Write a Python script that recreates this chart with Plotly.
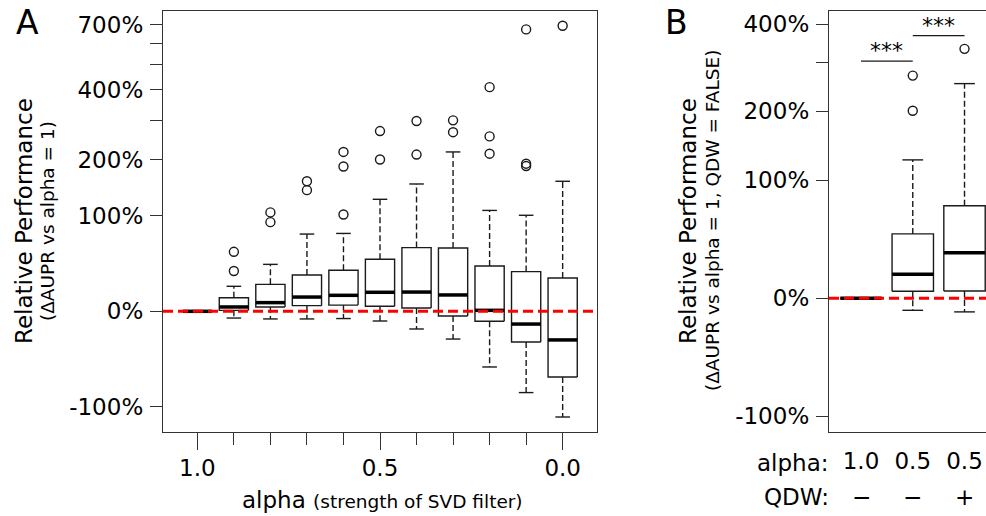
import numpy as np
import plotly.graph_objects as go

# ---------------- data (relative performance in %) ----------------
# Panel A: alpha (strength of SVD filter)
alpha_a = [1.0, 0.9, 0.8, 0.7, 0.6, 0.5, 0.4, 0.3, 0.2, 0.1, 0.0]
alpha_tick_labels = ["1.0", "0.5", "0.0"]
alpha_major = [1.0, 0.5, 0.0]
alpha_minor = [0.9, 0.8, 0.7, 0.6, 0.4, 0.3, 0.2, 0.1]
lo_a = [0, -5.0, -5.7, -5.7, -5.4, -7.3, -13.7, -22.3, -49.8, -80.4, -115.4]
q1_a = [0, 0.7, 3.2, 4.2, 4.6, 3.7, 2.4, -3.5, -7.5, -24.9, -61.1]
med_a = [0, 3.2, 6.5, 10.9, 12.3, 14.8, 15.0, 12.6, 0.7, -9.7, -23.1]
q3_a = [0, 10.4, 21.6, 30.2, 34.7, 45.9, 58.8, 58.3, 38.9, 33.4, 27.4]
hi_a = [0, 19.9, 40.6, 75.2, 76.0, 125.5, 152, 218, 108, 100.8, 157]
out_a = [[], [34, 54], [91, 105], [141, 157], [102, 186, 218], [201, 270],
         [212, 298], [267, 300], [214, 256, 409], [187, 192, 674], [695]]

# Panel B: alpha / QDW combinations
pos_b = [1, 2, 3]
alpha_b = ["1.0", "0.5", "0.5"]
qdw_b = ["\u2212", "\u2212", "+"]
lo_b = [0, -7.3, -8.3]
q1_b = [0, 4.2, 4.4]
med_b = [0, 15.1, 30.7]
q3_b = [0, 46.0, 72.3]
hi_b = [0, 125.5, 253]
out_b = [[], [201, 270], [333]]
sig_pairs = [(1, 2), (2, 3)]
sig_labels = ["***", "***"]
sig_heights = [303, 368]

yt_a = [-100, 0, 100, 200, 300, 400, 500, 600, 700]
yl_a = ["-100%", "0%", "100%", "200%", "", "400%", "", "", "700%"]
yt_b = [-100, 0, 100, 200, 300, 400]
yl_b = ["-100%", "0%", "100%", "200%", "", "400%"]


def T(p):
    p = np.asarray(p, dtype=float)
    return np.sign(p) * np.log2(1 + np.abs(p) / 100.0)


FONT = "DejaVu Sans"
LC = "#1a1a1a"


def boxes(xs, lo, q1, med, q3, hi, outl, hw, xa, ya):
    bx, by, mx, my, wx, wy, sx, sy, ox, oy = ([] for _ in range(10))
    for x, a, b, m, c, d, o in zip(xs, lo, q1, med, q3, hi, outl):
        a, b, m, c, d = T([a, b, m, c, d])
        bx += [x - hw, x + hw, x + hw, x - hw, x - hw, None]
        by += [b, b, c, c, b, None]
        mx += [x - hw, x + hw, None]
        my += [m, m, None]
        wx += [x, x, None, x, x, None]
        wy += [c, d, None, b, a, None]
        sx += [x - hw / 2, x + hw / 2, None, x - hw / 2, x + hw / 2, None]
        sy += [d, d, None, a, a, None]
        ox += [x] * len(o)
        oy += list(T(o)) if len(o) else []
    common = dict(xaxis=xa, yaxis=ya, showlegend=False, hoverinfo="skip")
    return [
        go.Scatter(x=wx, y=wy, mode="lines", line=dict(color=LC, width=1.4, dash="6px,3px"), **common),
        go.Scatter(x=sx, y=sy, mode="lines", line=dict(color=LC, width=1.4), **common),
        go.Scatter(x=bx, y=by, mode="lines", line=dict(color=LC, width=1.4), **common),
        go.Scatter(x=mx, y=my, mode="lines", line=dict(color="black", width=3.5), **common),
        go.Scatter(x=ox, y=oy, mode="markers",
                   marker=dict(symbol="circle-open", size=9, color=LC, line=dict(width=1.4)), **common),
    ]


fig = go.Figure()
for tr in boxes(alpha_a, lo_a, q1_a, med_a, q3_a, hi_a, out_a, 0.04, "x", "y"):
    fig.add_trace(tr)
for tr in boxes(pos_b, lo_b, q1_b, med_b, q3_b, hi_b, out_b, 0.4, "x2", "y2"):
    fig.add_trace(tr)

# significance brackets
for (a, b), lab, h in zip(sig_pairs, sig_labels, sig_heights):
    yv = float(T(h))
    fig.add_trace(go.Scatter(x=[a, b], y=[yv, yv], mode="lines", xaxis="x2", yaxis="y2",
                             line=dict(color=LC, width=1.3), showlegend=False, hoverinfo="skip"))
    fig.add_annotation(x=(a + b) / 2, y=yv, xref="x2", yref="y2", text=lab, showarrow=False,
                       yanchor="bottom", font=dict(family=FONT, size=22, color="black"), yshift=-4)

# reference lines at 0
for xr, yr in [("x", "y"), ("x2", "y2")]:
    fig.add_shape(type="line", xref=xr + " domain", yref=yr, x0=0, x1=1, y0=0, y1=0,
                  line=dict(color="#ff0000", width=3, dash="10px,5px"), layer="above")

W, H = 986, 516
MT, MB = 11, 84
PH = H - MT - MB


def py(p):
    return (H - MB - p) / PH


tickfont = dict(family=FONT, size=23, color="black")
axcommon = dict(showgrid=False, zeroline=False, showline=True, linecolor="#333", linewidth=1.3,
                ticks="outside", tickcolor="#333", tickwidth=1.3, tickfont=tickfont, automargin=False)

fig.update_layout(
    width=W, height=H, template="none",
    margin=dict(l=0, r=0, t=MT, b=MB),
    paper_bgcolor="white", plot_bgcolor="white",
    xaxis=dict(domain=[163 / W, 597 / W], range=[1.094, -0.094], anchor="y", mirror=True,
               tickmode="array", tickvals=alpha_major, ticktext=alpha_tick_labels, ticklen=17,
               ticklabelstandoff=-2,
               minor=dict(tickmode="array", tickvals=alpha_minor, ticklen=12, ticks="outside",
                          tickcolor="#333", tickwidth=1.3, showgrid=False),
               **axcommon),
    yaxis=dict(domain=[0, 1], range=[-1.264, 3.145], anchor="x", mirror=True,
               tickmode="array", tickvals=list(T(yt_a)), ticktext=yl_a, ticklen=12,
               ticklabelstandoff=2, **axcommon),
    xaxis2=dict(domain=[829 / W, 1.0], range=[0.3816, 3.415], anchor="y2", mirror=True,
                tickmode="array", tickvals=pos_b, ticktext=alpha_b, ticklen=0,
                ticklabelstandoff=8,
                **{**axcommon, "ticks": ""}),
    yaxis2=dict(domain=[0, 1], range=[-1.133, 2.435], anchor="x2", mirror=False,
                tickmode="array", tickvals=list(T(yt_b)), ticktext=yl_b, ticklen=12,
                ticklabelstandoff=2, **axcommon),
)

ann = dict(showarrow=False, xref="paper", yref="paper", font=dict(family=FONT, size=23, color="black"))
fig.add_annotation(text="A", x=27 / W, y=py(23), xanchor="center", yanchor="middle",
                   **{**ann, "font": dict(family=FONT, size=33, color="black")})
fig.add_annotation(text="B", x=676 / W, y=py(23), xanchor="center", yanchor="middle",
                   **{**ann, "font": dict(family=FONT, size=33, color="black")})
fig.add_annotation(text="Relative Performance", x=24 / W, y=py(221), textangle=-90,
                   xanchor="center", yanchor="middle", **ann)
fig.add_annotation(text="(\u0394AUPR vs alpha = 1)", x=47 / W, y=py(221), textangle=-90,
                   xanchor="center", yanchor="middle",
                   **{**ann, "font": dict(family=FONT, size=18.5, color="black")})
fig.add_annotation(text="Relative Performance", x=688 / W, y=py(221), textangle=-90,
                   xanchor="center", yanchor="middle", **ann)
fig.add_annotation(text="(\u0394AUPR vs alpha = 1, QDW = FALSE)", x=712 / W, y=py(221), textangle=-90,
                   xanchor="center", yanchor="middle",
                   **{**ann, "font": dict(family=FONT, size=18.5, color="black")})
fig.add_annotation(text="alpha <span style='font-size:18.5px'>(strength of SVD filter)</span>",
                   x=382 / W, y=py(500), xanchor="center", yanchor="middle", **ann)
fig.add_annotation(text="alpha:", x=831 / W, y=py(463), xanchor="right", yanchor="middle", **ann)
fig.add_annotation(text="QDW:", x=831 / W, y=py(497), xanchor="right", yanchor="middle", **ann)
for p, q in zip(pos_b, qdw_b):
    fig.add_annotation(text=q, x=p, xref="x2", y=py(497), yref="paper", showarrow=False,
                       xanchor="center", yanchor="middle", font=dict(family=FONT, size=23, color="black"))

fig.write_html("out.html")
